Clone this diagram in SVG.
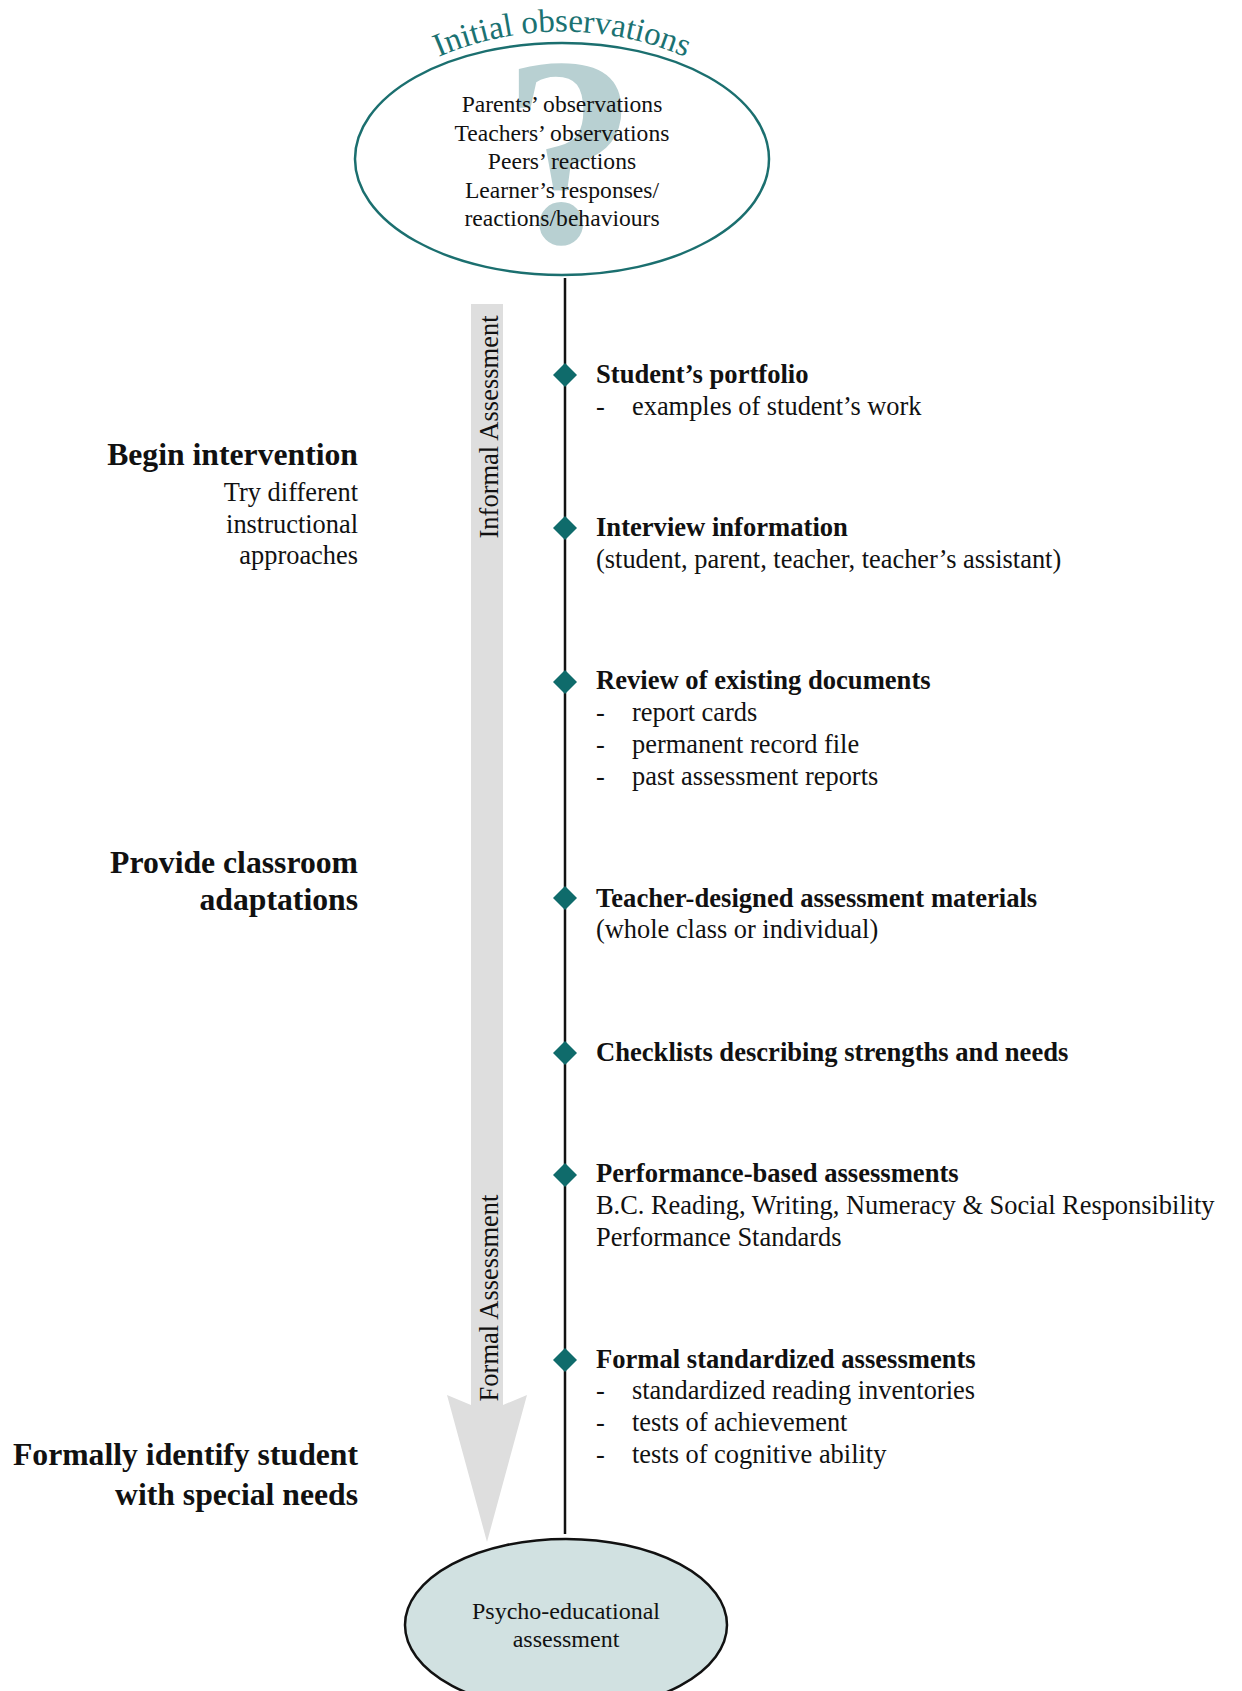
<svg xmlns="http://www.w3.org/2000/svg" xmlns:xlink="http://www.w3.org/1999/xlink" width="1242" height="1691" viewBox="0 0 1242 1691">
  <style>
    text { font-family: "Liberation Serif", "Times New Roman", serif; fill: #111; }
    .obs { font-size: 23.6px; text-anchor: middle; }
    .head { font-size: 26.6px; font-weight: bold; }
    .body { font-size: 26.4px; }
    .side { font-size: 31.7px; font-weight: bold; text-anchor: end; }
    .sidesub { font-size: 26.4px; text-anchor: end; }
    .band { font-size: 26.5px; text-anchor: middle; }
    .diamond { fill: #0f6b6b; }
  </style>
  <defs>
    <path id="titleArc" d="M 412,70 A 312 312 0 0 1 712,70"/>
    <path id="dia" d="M0,-12 L12,0 L0,12 L-12,0 Z"/>
  </defs>

  <rect width="1242" height="1691" fill="#ffffff"/>

  <!-- grey progression arrow with its two band labels -->
  <g id="progress-arrow">
    <polygon points="471,304 503,304 503,1405 527,1395 487,1542 447,1395 471,1405" fill="#dedede"/>
    <text class="band" transform="translate(498,427) rotate(-90)">Informal Assessment</text>
    <text class="band" transform="translate(498,1298) rotate(-90)">Formal Assessment</text>
  </g>

  <!-- connectors: the central timeline -->
  <g id="connectors">
    <line x1="565" y1="278" x2="565" y2="1534" stroke="#111" stroke-width="2.5"/>
  </g>

  <!-- start node -->
  <g id="initial-observations">
    <ellipse cx="562" cy="159" rx="207" ry="116" fill="#ffffff" stroke="#1b6f6f" stroke-width="2.5"/>
    <text x="570" y="242" text-anchor="middle" style="font-size:270px;font-weight:bold;fill:#b8d0d2">?</text>
    <text style="font-size:33px;fill:#1b7272">
      <textPath xlink:href="#titleArc" href="#titleArc" startOffset="50%" text-anchor="middle">Initial observations</textPath>
    </text>
    <text class="obs" x="562" y="112">Parents’ observations</text>
    <text class="obs" x="562" y="140.5">Teachers’ observations</text>
    <text class="obs" x="562" y="169">Peers’ reactions</text>
    <text class="obs" x="562" y="197.5">Learner’s responses/</text>
    <text class="obs" x="562" y="226">reactions/behaviours</text>
  </g>

  <!-- assessment steps along the timeline -->
  <g id="step-portfolio">
    <use href="#dia" xlink:href="#dia" class="diamond" x="565" y="375"/>
    <text class="head" x="596" y="383">Student’s portfolio</text>
    <text class="body" x="596" y="415">-</text>
    <text class="body" x="632" y="415">examples of student’s work</text>
  </g>

  <g id="step-interview">
    <use href="#dia" xlink:href="#dia" class="diamond" x="565" y="528"/>
    <text class="head" x="596" y="536">Interview information</text>
    <text class="body" x="596" y="568">(student, parent, teacher, teacher’s assistant)</text>
  </g>

  <g id="step-documents">
    <use href="#dia" xlink:href="#dia" class="diamond" x="565" y="682"/>
    <text class="head" x="596" y="689">Review of existing documents</text>
    <text class="body" x="596" y="721">-</text>
    <text class="body" x="632" y="721">report cards</text>
    <text class="body" x="596" y="753">-</text>
    <text class="body" x="632" y="753">permanent record file</text>
    <text class="body" x="596" y="785">-</text>
    <text class="body" x="632" y="785">past assessment reports</text>
  </g>

  <g id="step-teacher-materials">
    <use href="#dia" xlink:href="#dia" class="diamond" x="565" y="898"/>
    <text class="head" x="596" y="907">Teacher-designed assessment materials</text>
    <text class="body" x="596" y="938">(whole class or individual)</text>
  </g>

  <g id="step-checklists">
    <use href="#dia" xlink:href="#dia" class="diamond" x="565" y="1053"/>
    <text class="head" x="596" y="1061">Checklists describing strengths and needs</text>
  </g>

  <g id="step-performance">
    <use href="#dia" xlink:href="#dia" class="diamond" x="565" y="1175"/>
    <text class="head" x="596" y="1182">Performance-based assessments</text>
    <text class="body" x="596" y="1214">B.C. Reading, Writing, Numeracy &amp; Social Responsibility</text>
    <text class="body" x="596" y="1246">Performance Standards</text>
  </g>

  <g id="step-standardized">
    <use href="#dia" xlink:href="#dia" class="diamond" x="565" y="1360"/>
    <text class="head" x="596" y="1368">Formal standardized assessments</text>
    <text class="body" x="596" y="1399">-</text>
    <text class="body" x="632" y="1399">standardized reading inventories</text>
    <text class="body" x="596" y="1431">-</text>
    <text class="body" x="632" y="1431">tests of achievement</text>
    <text class="body" x="596" y="1463">-</text>
    <text class="body" x="632" y="1463">tests of cognitive ability</text>
  </g>

  <!-- end node -->
  <g id="psycho-educational">
    <ellipse cx="566" cy="1625" rx="161" ry="86" fill="#d1e1e1" stroke="#111" stroke-width="2.5"/>
    <text x="566" y="1619" text-anchor="middle" style="font-size:24px">Psycho-educational</text>
    <text x="566" y="1647" text-anchor="middle" style="font-size:24px">assessment</text>
  </g>

  <!-- actions on the left -->
  <g id="action-intervention">
    <text class="side" x="358" y="465">Begin intervention</text>
    <text class="sidesub" x="358" y="501">Try different</text>
    <text class="sidesub" x="358" y="533">instructional</text>
    <text class="sidesub" x="358" y="564">approaches</text>
  </g>

  <g id="action-adaptations">
    <text class="side" x="358" y="873">Provide classroom</text>
    <text class="side" x="358" y="910">adaptations</text>
  </g>

  <g id="action-identify">
    <text class="side" x="358" y="1465">Formally identify student</text>
    <text class="side" x="358" y="1505">with special needs</text>
  </g>
</svg>
